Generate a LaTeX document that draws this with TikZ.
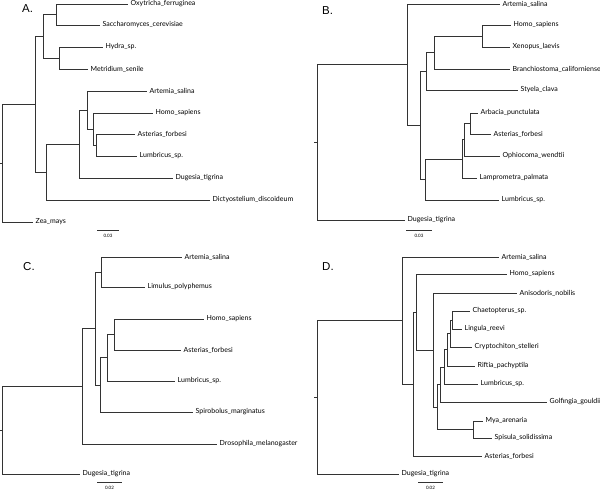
\documentclass[tikz,border=0pt]{standalone}
\usepackage{fontspec}
\setmainfont{Lato}
\newfontfamily\panelfont{Liberation Sans}
\usepackage{tikz}
\usetikzlibrary{positioning}

\tikzset{
	branch/.style={draw=black!80, line width=0.6pt},
	taxon/.style={anchor=west, inner xsep=2.5pt, inner ysep=0.5pt,
		font=\fontsize{7}{8}\selectfont},
	panel/.style={anchor=west, inner sep=0pt,
		font=\panelfont\fontsize{11.5}{13}\selectfont},
	scalelabel/.style={inner sep=0pt, font=\fontsize{4.5}{5}\selectfont}
}

\begin{document}
\begin{tikzpicture}[x=1pt,y=-1pt]
	
	\useasboundingbox (0,0) rectangle (600,490);
	
	% A.
	\node[panel] (a-label) at (22,9) {A.};
	\coordinate (a-stub) at (0,163);
	\coordinate (a-root) at (2.7,163);
	\coordinate (a-top) at (35.7,104);
	\coordinate (a-n1) at (43.3,36.25);
	\coordinate (a-n2) at (56.7,14.5);
	\coordinate (a-n3) at (59.3,58);
	\coordinate (a-n4) at (46.7,172);
	\coordinate (a-n5) at (79.3,144);
	\coordinate (a-n6) at (87.3,110);
	\coordinate (a-n7) at (93.3,129);
	\coordinate (a-n8) at (96.7,145);
	\node[taxon] (a-oxy) at (128,4) {Oxytricha\_ferruginea};
	\node[taxon] (a-sac) at (100,25) {Saccharomyces\_cerevisiae};
	\node[taxon] (a-hyd) at (103,47) {Hydra\_sp.};
	\node[taxon] (a-met) at (88,69) {Metridium\_senile};
	\node[taxon] (a-art) at (147,91) {Artemia\_salina};
	\node[taxon] (a-hom) at (153,113) {Homo\_sapiens};
	\node[taxon] (a-ast) at (135,134) {Asterias\_forbesi};
	\node[taxon] (a-lum) at (137,156) {Lumbricus\_sp.};
	\node[taxon] (a-dug) at (173,178) {Dugesia\_tigrina};
	\node[taxon] (a-dic) at (210,200) {Dictyostelium\_discoideum};
	\node[taxon] (a-zea) at (33,222) {Zea\_mays};
	\draw[branch] (a-stub) -- (a-root);
	\foreach \p/\c in {a-root/a-top, a-root/a-zea, a-top/a-n1, a-top/a-n4,
		a-n1/a-n2, a-n1/a-n3, a-n2/a-oxy, a-n2/a-sac, a-n3/a-hyd, a-n3/a-met,
		a-n4/a-n5, a-n4/a-dic, a-n5/a-n6, a-n5/a-dug, a-n6/a-art, a-n6/a-n7,
		a-n7/a-hom, a-n7/a-n8, a-n8/a-ast, a-n8/a-lum}
	\draw[branch] (\p) |- (\c);
	\coordinate (a-bar1) at (97,230);
	\coordinate (a-bar2) at (119,230);
	\draw[branch] (a-bar1) -- (a-bar2);
	\node[scalelabel] (a-scale) at (108,236) {0.03};
	
	% B.
	\node[panel] (b-label) at (322,11) {B.};
	\coordinate (b-stub) at (314,142.25);
	\coordinate (b-root) at (317,142.25);
	\coordinate (b-n1) at (407,64.5);
	\coordinate (b-n2) at (420,125.25);
	\coordinate (b-n3) at (426,71.25);
	\coordinate (b-n4) at (434,52.5);
	\coordinate (b-n5) at (482,36);
	\coordinate (b-n6) at (425,179.5);
	\coordinate (b-n7) at (462,159);
	\coordinate (b-n8) at (464,139.75);
	\coordinate (b-n9) at (470,123.5);
	\node[taxon] (b-art) at (500,4) {Artemia\_salina};
	\node[taxon] (b-hom) at (511,25) {Homo\_sapiens};
	\node[taxon] (b-xen) at (510,47) {Xenopus\_laevis};
	\node[taxon] (b-bra) at (510,69) {Branchiostoma\_californiense};
	\node[taxon] (b-sty) at (518,90) {Styela\_clava};
	\node[taxon] (b-arb) at (478,113) {Arbacia\_punctulata};
	\node[taxon] (b-ast) at (491,134) {Asterias\_forbesi};
	\node[taxon] (b-oph) at (500,156) {Ophiocoma\_wendtii};
	\node[taxon] (b-lam) at (477,178) {Lamprometra\_palmata};
	\node[taxon] (b-lum) at (499,200) {Lumbricus\_sp.};
	\node[taxon] (b-dug) at (405,220) {Dugesia\_tigrina};
	\draw[branch] (b-stub) -- (b-root);
	\foreach \p/\c in {b-root/b-n1, b-root/b-dug, b-n1/b-art, b-n1/b-n2,
		b-n2/b-n3, b-n2/b-n6, b-n3/b-n4, b-n3/b-sty, b-n4/b-n5, b-n4/b-bra,
		b-n5/b-hom, b-n5/b-xen, b-n6/b-n7, b-n6/b-lum, b-n7/b-n8, b-n7/b-lam,
		b-n8/b-n9, b-n8/b-oph, b-n9/b-arb, b-n9/b-ast}
	\draw[branch] (\p) |- (\c);
	\coordinate (b-bar1) at (406,230);
	\coordinate (b-bar2) at (432,230);
	\draw[branch] (b-bar1) -- (b-bar2);
	\node[scalelabel] (b-scale) at (419,236) {0.03};
	
	% C.
	\node[panel] (c-label) at (23,267) {C.};
	\coordinate (c-stub) at (0,430);
	\coordinate (c-root) at (2.7,430);
	\coordinate (c-n1) at (82,386.25);
	\coordinate (c-n2) at (95,328.5);
	\coordinate (c-n3) at (101,272);
	\coordinate (c-n4) at (100,384.9);
	\coordinate (c-n5) at (107,357.75);
	\coordinate (c-n6) at (114,334.5);
	\node[taxon] (c-art) at (182,257) {Artemia\_salina};
	\node[taxon] (c-lim) at (145,287) {Limulus\_polyphemus};
	\node[taxon] (c-hom) at (204,319) {Homo\_sapiens};
	\node[taxon] (c-ast) at (181,350) {Asterias\_forbesi};
	\node[taxon] (c-lum) at (175,381) {Lumbricus\_sp.};
	\node[taxon] (c-spi) at (193,412) {Spirobolus\_marginatus};
	\node[taxon] (c-dro) at (217,444) {Drosophila\_melanogaster};
	\node[taxon] (c-dug) at (80,474) {Dugesia\_tigrina};
	\draw[branch] (c-stub) -- (c-root);
	\foreach \p/\c in {c-root/c-n1, c-root/c-dug, c-n1/c-n2, c-n1/c-dro,
		c-n2/c-n3, c-n2/c-n4, c-n3/c-art, c-n3/c-lim, c-n4/c-n5, c-n4/c-spi,
		c-n5/c-n6, c-n5/c-lum, c-n6/c-hom, c-n6/c-ast}
	\draw[branch] (\p) |- (\c);
	\coordinate (c-bar1) at (97,482);
	\coordinate (c-bar2) at (122,482);
	\draw[branch] (c-bar1) -- (c-bar2);
	\node[scalelabel] (c-scale) at (109.5,487.5) {0.02};
	
	% D.
	\node[panel] (d-label) at (322,266.5) {D.};
	\coordinate (d-stub) at (314,397.25);
	\coordinate (d-root) at (317,397.25);
	\coordinate (d-n1) at (402,320.5);
	\coordinate (d-n2) at (413,384);
	\coordinate (d-n3) at (416,312);
	\coordinate (d-n4) at (433,350);
	\coordinate (d-n5) at (437,407);
	\coordinate (d-n6) at (440,384.5);
	\coordinate (d-n7) at (444,367);
	\coordinate (d-n8) at (447,349.75);
	\coordinate (d-n9) at (450,333.5);
	\coordinate (d-n10) at (452,320);
	\coordinate (d-n11) at (473,429.5);
	\node[taxon] (d-art) at (499,257) {Artemia\_salina};
	\node[taxon] (d-hom) at (507,274) {Homo\_sapiens};
	\node[taxon] (d-ani) at (517,293) {Anisodoris\_nobilis};
	\node[taxon] (d-cha) at (470,311) {Chaetopterus\_sp.};
	\node[taxon] (d-lin) at (462,329) {Lingula\_reevi};
	\node[taxon] (d-cry) at (472,347) {Cryptochiton\_stelleri};
	\node[taxon] (d-rif) at (475,366) {Riftia\_pachyptila};
	\node[taxon] (d-lum) at (478,384) {Lumbricus\_sp.};
	\node[taxon] (d-gol) at (547,402) {Golfingia\_gouldii};
	\node[taxon] (d-mya) at (483,421) {Mya\_arenaria};
	\node[taxon] (d-spi) at (492,438) {Spisula\_solidissima};
	\node[taxon] (d-ast) at (482,456) {Asterias\_forbesi};
	\node[taxon] (d-dug) at (399,474) {Dugesia\_tigrina};
	\draw[branch] (d-stub) -- (d-root);
	\foreach \p/\c in {d-root/d-n1, d-root/d-dug, d-n1/d-art, d-n1/d-n2,
		d-n2/d-n3, d-n2/d-ast, d-n3/d-hom, d-n3/d-n4, d-n4/d-ani, d-n4/d-n5,
		d-n5/d-n6, d-n5/d-n11, d-n6/d-n7, d-n6/d-gol, d-n7/d-n8, d-n7/d-lum,
		d-n8/d-n9, d-n8/d-rif, d-n9/d-n10, d-n9/d-cry, d-n10/d-cha,
		d-n10/d-lin, d-n11/d-mya, d-n11/d-spi}
	\draw[branch] (\p) |- (\c);
	\coordinate (d-bar1) at (418,482);
	\coordinate (d-bar2) at (443,482);
	\draw[branch] (d-bar1) -- (d-bar2);
	\node[scalelabel] (d-scale) at (430.5,487.5) {0.02};
	
\end{tikzpicture}
\end{document}
